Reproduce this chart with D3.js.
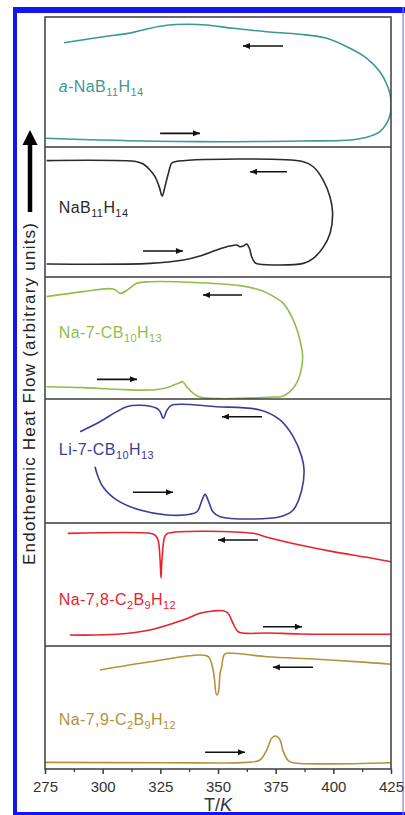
<!DOCTYPE html>
<html>
<head>
<meta charset="utf-8">
<script src="https://cdn.jsdelivr.net/npm/d3@7"></script>
<style>
  body { margin: 0; background: #fff; }
  svg { display: block; }
  text { font-family: "Liberation Sans", Arial, Helvetica, sans-serif; }
</style>
</head>
<body>
<div id="chart"></div>
<script>
// ---- data (T in K, signal in arbitrary units 0-100 inside each panel) ----
const tempTicks = [275, 300, 325, 350, 375, 400, 425];
const minorTicks = [287.5, 312.5, 337.5, 362.5, 387.5, 412.5];

// a-NaB11H14 : heating (bottom, left->right) then cooling (top, right->left)
const aNaB11H14 = [[275.4,6.7],[298.8,5.4],[342.2,4.1],[385.5,4.6],[407.2,5.4],[414.5,7.5],[420.2,11.8],
  [423.1,18.2],[424.6,24.6],[425,36.2],[423.6,46.4],[420.2,57.9],[414.5,68.2],[407.2,75.9],[397.1,83.6],
  [385.5,86.7],[371.1,88.7],[356.6,91.3],[345.1,93.8],[336.4,94.4],[327.8,93.6],[320.5,91.3],[313.3,88.2],
  [298.8,84.4],[283.2,80.2]];

const NaB11H14 = [[275.7,10],[320.5,10.5],[335,13.1],[342.2,16.2],[349.4,20.8],[355.2,23.8],[358.1,24.6],
  [359.5,23.3],[361,23.8],[362.4,25.4],[363.6,22.1],[364.6,15.6],[366,11],[367.5,10],[387,10.5],[391.3,14.4],
  [395.6,22.8],[398.6,33.6],[399.7,49],[398.6,61.3],[395.6,74.6],[391.3,84.8],[387,88.7],[331.4,88.7],
  [329.9,87.5],[328.5,79.8],[327,69.5],[325.8,62.3],[324.5,69.5],[322.7,77.2],[320.5,82.3],[317.6,86.9],
  [314.8,88.7],[275.7,89.5]];

const NaCB10H13 = [[275.7,10.1],[291.6,9.3],[306.1,8],[320.5,7.4],[327.8,9.3],[332.8,12.9],[334.7,14.2],
  [336.4,10.1],[339.3,4.7],[342.2,1.6],[374,1.6],[378.3,2.5],[382.6,8.8],[385.5,19.7],[386.7,34.7],
  [385.5,48.4],[382.6,64.8],[378.3,78.4],[375.4,82.5],[368.2,89.3],[359.5,92.9],[342.2,95.3],[320.5,96.1],
  [314.8,94.8],[311.1,89.9],[307.8,86.6],[304.6,90.2],[291.6,88],[275.7,83.9]];

const LiCB10H13 = [[296.7,45.4],[297.5,40.1],[300.1,29.3],[306.2,18.5],[316.2,10.5],[327.9,6.5],[337.9,7],
  [340.9,9.1],[343.1,18.5],[344.4,23.1],[345.7,18.5],[347.8,9.1],[350.9,5.1],[376.9,5.1],[382.6,10.5],
  [386.3,26.6],[387.3,42.7],[386.3,53.5],[382.6,69.6],[376.9,83.1],[368.2,91.1],[349.4,93.8],[329.9,94.9],
  [327.8,90.6],[326.3,84.4],[324.9,89.8],[323.4,92.5],[316.2,94.9],[310.4,93.8],[306.1,89.8],[298.8,81.7],
  [290.2,73.6]];

const Na78Heat = [[285.8,8.9],[306.2,9.5],[320.5,13],[334.8,21.1],[342.2,26.6],[347.8,28.5],[352.2,28.7],
  [354.3,26.8],[356.5,18.5],[358.7,11.6],[362.6,10.3],[371.2,10.6],[385.5,9.8],[425,9.5]];
const Na78Cool = [[425,68.5],[414.6,72.1],[399.9,76.7],[385.5,82.1],[371.2,88.4],[365.2,91.6],[328.3,91.6],
  [327,89.4],[325.7,69.9],[325.3,55.3],[324.9,69.9],[324,86.2],[322.7,90.2],[320.5,91.6],[284.9,91.6]];

const Na79Heat = [[275,5.4],[327.9,5.1],[362.6,5.4],[368.2,7.3],[371.1,15.4],[373.3,25],[375.1,26.8],
  [376.9,23.6],[378.3,14.1],[380.5,6.7],[382.5,5.1],[425,5.1]];
const Na79Cool = [[425,85.1],[414.6,86.7],[392.9,89.2],[371.2,91.3],[353.8,94.1],[352.6,92.7],[351.6,83.2],
  [350.9,78],[350.1,61.8],[349.4,60.2],[347.9,80.5],[345.8,91.3],[342.2,92.7],[320.5,87.2],[298.8,80.5]];

// direction arrows [T start, T end, level]
const coolArrows = [[360.8,378.2,77.7],[363.9,379.9,81],[343.5,360.4,85.2],[351.7,369.1,85.7],[350,367.3,86.2],[373.8,391.2,82.7]];
const heatArrows = [[324.9,342.2,10.5],[317.5,334.8,20],[297.5,314.9,16.1],[313.1,330.5,24.8],[369.5,386.4,15.7],[344.4,361.7,13.6]];

// sample labels: [text, style] with i = italic, s = subscript
const labelA = [["a","i"],["-NaB"],["11","s"],["H"],["14","s"]];
const labelB = [["NaB"],["11","s"],["H"],["14","s"]];
const labelC = [["Na-7-CB"],["10","s"],["H"],["13","s"]];
const labelD = [["Li-7-CB"],["10","s"],["H"],["13","s"]];
const labelE = [["Na-7,8-C"],["2","s"],["B"],["9","s"],["H"],["12","s"]];
const labelF = [["Na-7,9-C"],["2","s"],["B"],["9","s"],["H"],["12","s"]];
const labelAt = [[281,42.3],[281,49],[281,49.8],[281,54.8],[281,33.3],[281,35.8]];

const colors = ["#3a9a93", "#2a2a2a", "#8fbe4a", "#3c3d94", "#e8232b", "#b5913a"];

// ---- layout ----
const width = 405, height = 815;
const panelEdges = [17, 147, 277, 399, 523, 646, 769];
const plotLeft = 45, plotRight = 391;

const panels = [
  {segs: [aNaB11H14], label: labelA},
  {segs: [NaB11H14], label: labelB},
  {segs: [NaCB10H13], label: labelC},
  {segs: [LiCB10H13], label: labelD},
  {segs: [Na78Heat, Na78Cool], label: labelE},
  {segs: [Na79Heat, Na79Cool], label: labelF}
];

const svg = d3.select("#chart").append("svg")
  .attr("width", width).attr("height", height);

const blue = "#1414f0";
svg.append("rect").attr("x", 13).attr("y", 7).attr("width", width - 13).attr("height", 6).attr("fill", blue);
svg.append("rect").attr("x", 13).attr("y", 7).attr("width", 4).attr("height", height - 7).attr("fill", blue);
svg.append("rect").attr("x", 13).attr("y", 812).attr("width", width - 13).attr("height", 3).attr("fill", blue);
svg.append("rect").attr("x", 402.5).attr("y", 7).attr("width", 1.2).attr("height", height - 7).attr("fill", "#7b7bff");

const x = d3.scaleLinear().domain([275, 425]).range([plotLeft, plotRight]);

const defs = svg.append("defs");

panels.forEach((p, i) => {
  const top = panelEdges[i], bottom = panelEdges[i + 1];
  const y = d3.scaleLinear().domain([0, 100]).range([bottom, top]);
  const clipId = "clip" + i;
  defs.append("clipPath").attr("id", clipId).append("rect")
    .attr("x", plotLeft).attr("y", top).attr("width", plotRight - plotLeft).attr("height", bottom - top);

  const line = d3.line().x(d => x(d[0])).y(d => y(d[1])).curve(d3.curveCatmullRom.alpha(0.5));
  const g = svg.append("g").attr("clip-path", `url(#${clipId})`);
  p.segs.forEach(s => {
    g.append("path").attr("d", line(s))
      .attr("fill", "none").attr("stroke", colors[i]).attr("stroke-width", 1.6)
      .attr("stroke-linejoin", "round");
  });

  // arrows
  const drawArrow = (a, dir) => {
    const x1 = x(a[0]), x2 = x(a[1]), yy = y(a[2]);
    g.append("line").attr("x1", x1).attr("x2", x2).attr("y1", yy).attr("y2", yy)
      .attr("stroke", "#111").attr("stroke-width", 1.6);
    const tip = dir < 0 ? x1 : x2;
    g.append("path")
      .attr("d", `M${tip},${yy} L${tip - dir * 7},${yy - 3} L${tip - dir * 7},${yy + 3} Z`)
      .attr("fill", "#111");
  };
  drawArrow(coolArrows[i], -1);
  drawArrow(heatArrows[i], 1);

  // label
  const t = svg.append("text")
    .attr("x", x(labelAt[i][0])).attr("y", y(labelAt[i][1]))
    .attr("fill", colors[i]).attr("font-size", 16).attr("letter-spacing", 0.4);
  let low = false;
  p.label.forEach(part => {
    const ts = t.append("tspan").text(part[0]);
    if (part[1] === "i") ts.attr("font-style", "italic");
    if (part[1] === "s") {
      ts.attr("font-size", 11).attr("dy", low ? 0 : 4);
      low = true;
    } else if (low) {
      ts.attr("dy", -4);
      low = false;
    }
  });
});

// frame and panel dividers
svg.append("rect").attr("x", plotLeft).attr("y", panelEdges[0])
  .attr("width", plotRight - plotLeft).attr("height", panelEdges[6] - panelEdges[0])
  .attr("fill", "none").attr("stroke", "#3c3c3c").attr("stroke-width", 1.5);
svg.selectAll("line.div").data(panelEdges.slice(1, 6)).join("line")
  .attr("class", "div")
  .attr("x1", plotLeft).attr("x2", plotRight).attr("y1", d => d).attr("y2", d => d)
  .attr("stroke", "#3c3c3c").attr("stroke-width", 1.5);

// x axis
const axisY = panelEdges[6];
const xAxis = svg.append("g").attr("transform", `translate(0,${axisY})`)
  .call(d3.axisBottom(x).tickValues(tempTicks).tickSize(5).tickPadding(7));
xAxis.select(".domain").remove();
xAxis.selectAll(".tick line").attr("stroke", "#3c3c3c").attr("stroke-width", 1.5);
xAxis.selectAll(".tick text").attr("fill", "#333").attr("font-size", 15)
  .attr("font-family", "'Liberation Sans', Arial, sans-serif");
const xMinor = svg.append("g").attr("transform", `translate(0,${axisY})`)
  .call(d3.axisBottom(x).tickValues(minorTicks).tickSize(3).tickFormat(""));
xMinor.select(".domain").remove();
xMinor.selectAll(".tick line").attr("stroke", "#3c3c3c").attr("stroke-width", 1.3);

const xt = svg.append("text").attr("x", x(350)).attr("y", 811)
  .attr("text-anchor", "middle").attr("font-size", 18).attr("fill", "#333");
xt.append("tspan").text("T/");
xt.append("tspan").text("K").attr("font-style", "italic");

// y label with big arrow
svg.append("text")
  .attr("transform", "translate(35,394) rotate(-90)")
  .attr("text-anchor", "middle").attr("font-size", 17).attr("fill", "#222")
  .attr("textLength", 342).attr("lengthAdjust", "spacing")
  .text("Endothermic Heat Flow (arbitrary units)");
svg.append("line").attr("x1", 30).attr("x2", 30).attr("y1", 212).attr("y2", 143)
  .attr("stroke", "#000").attr("stroke-width", 4.5);
svg.append("path").attr("d", "M30,130 L37.5,145 L22.5,145 Z").attr("fill", "#000");
</script>
</body>
</html>
